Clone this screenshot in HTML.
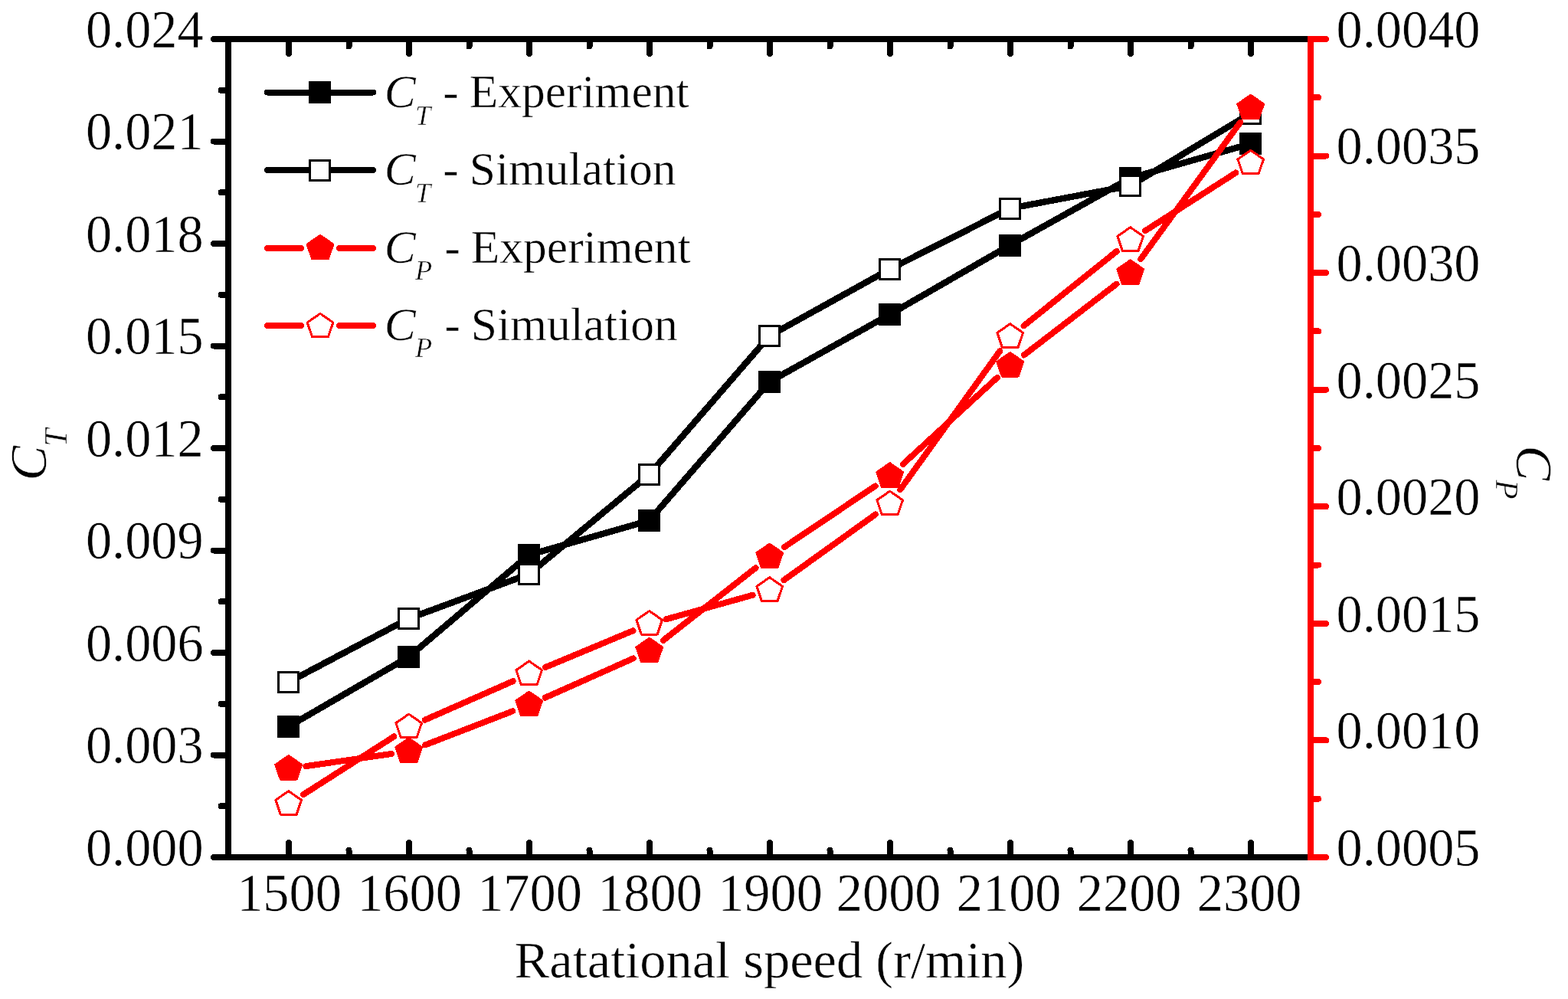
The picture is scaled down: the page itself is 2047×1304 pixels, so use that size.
<!DOCTYPE html>
<html lang="en"><head><meta charset="utf-8"><title>CT and CP versus rotational speed</title>
<style>
html,body{margin:0;padding:0;background:#fff;}
body{width:2047px;height:1304px;overflow:hidden;}
svg{display:block;}
text{font-family:"Liberation Serif", "Times New Roman", Times, serif;fill:#000;stroke:#fff;stroke-width:0.5px;}
.ax{stroke:#000;stroke-width:8;stroke-linecap:round;fill:none;}
.axr{stroke:#f00;stroke-width:8;stroke-linecap:round;fill:none;}
.lk{stroke:#000;stroke-width:8.4;fill:none;stroke-linejoin:round;}
.lr{stroke:#f00;stroke-width:8;fill:none;stroke-linecap:round;}
.sqf{fill:#000;stroke:#000;stroke-width:3;}
.sqo{fill:#fff;stroke:#000;stroke-width:3;}
.pf{fill:#f00;stroke:#f00;stroke-width:3;stroke-linejoin:round;}
.po{fill:#fff;stroke:#f00;stroke-width:3;stroke-linejoin:round;}
.tk{font-size:68.35px;}
.tt{font-size:68.5px;}
.lg{font-size:61.5px;}
.it{font-style:italic;}
</style></head><body>
<svg width="2047" height="1304" viewBox="0 0 2047 1304">
<rect x="0" y="0" width="2047" height="1304" fill="#fff"/>
<g shape-rendering="crispEdges">
<path class="ax" d="M377 51V70M377 1119V1100M455.5 51V60.5M455.5 1119V1109.5M534 51V70M534 1119V1100M612.5 51V60.5M612.5 1119V1109.5M691 51V70M691 1119V1100M769.5 51V60.5M769.5 1119V1109.5M848 51V70M848 1119V1100M926.5 51V60.5M926.5 1119V1109.5M1005 51V70M1005 1119V1100M1083.5 51V60.5M1083.5 1119V1109.5M1162 51V70M1162 1119V1100M1240.5 51V60.5M1240.5 1119V1109.5M1319 51V70M1319 1119V1100M1397.5 51V60.5M1397.5 1119V1109.5M1476 51V70M1476 1119V1100M1554.5 51V60.5M1554.5 1119V1109.5M1633 51V70M1633 1119V1100M298 1119H279M298 1052.25H288.5M298 985.5H279M298 918.75H288.5M298 852H279M298 785.25H288.5M298 718.5H279M298 651.75H288.5M298 585H279M298 518.25H288.5M298 451.5H279M298 384.75H288.5M298 318H279M298 251.25H288.5M298 184.5H279M298 117.75H288.5M298 51H279"/>
<path class="ax" style="stroke-linecap:butt" d="M298 51H1711 M298 1119H1711 M298 51V1119"/>
<path class="axr" d="M1711 1119H1731M1711 1042.71H1721M1711 966.43H1731M1711 890.14H1721M1711 813.86H1731M1711 737.57H1721M1711 661.29H1731M1711 585H1721M1711 508.71H1731M1711 432.43H1721M1711 356.14H1731M1711 279.86H1721M1711 203.57H1731M1711 127.29H1721M1711 51H1731"/>
<path class="axr" style="stroke-linecap:butt" d="M1711 47V1123"/>
</g>
<text class="tk" transform="translate(265.7,1129.8) scale(1,1.02)" text-anchor="end">0.000</text>
<text class="tk" transform="translate(265.7,996.3) scale(1,1.02)" text-anchor="end">0.003</text>
<text class="tk" transform="translate(265.7,862.8) scale(1,1.02)" text-anchor="end">0.006</text>
<text class="tk" transform="translate(265.7,729.3) scale(1,1.02)" text-anchor="end">0.009</text>
<text class="tk" transform="translate(265.7,595.8) scale(1,1.02)" text-anchor="end">0.012</text>
<text class="tk" transform="translate(265.7,462.3) scale(1,1.02)" text-anchor="end">0.015</text>
<text class="tk" transform="translate(265.7,328.8) scale(1,1.02)" text-anchor="end">0.018</text>
<text class="tk" transform="translate(265.7,195.3) scale(1,1.02)" text-anchor="end">0.021</text>
<text class="tk" transform="translate(265.7,61.8) scale(1,1.02)" text-anchor="end">0.024</text>
<text class="tk" transform="translate(1744.6,1129.8) scale(1,1.02)">0.0005</text>
<text class="tk" transform="translate(1744.6,977.23) scale(1,1.02)">0.0010</text>
<text class="tk" transform="translate(1744.6,824.66) scale(1,1.02)">0.0015</text>
<text class="tk" transform="translate(1744.6,672.09) scale(1,1.02)">0.0020</text>
<text class="tk" transform="translate(1744.6,519.51) scale(1,1.02)">0.0025</text>
<text class="tk" transform="translate(1744.6,366.94) scale(1,1.02)">0.0030</text>
<text class="tk" transform="translate(1744.6,214.37) scale(1,1.02)">0.0035</text>
<text class="tk" transform="translate(1744.6,61.8) scale(1,1.02)">0.0040</text>
<text class="tk" transform="translate(377.5,1188.8) scale(1,1.02)" text-anchor="middle">1500</text>
<text class="tk" transform="translate(534.5,1188.8) scale(1,1.02)" text-anchor="middle">1600</text>
<text class="tk" transform="translate(691.5,1188.8) scale(1,1.02)" text-anchor="middle">1700</text>
<text class="tk" transform="translate(848.5,1188.8) scale(1,1.02)" text-anchor="middle">1800</text>
<text class="tk" transform="translate(1005.5,1188.8) scale(1,1.02)" text-anchor="middle">1900</text>
<text class="tk" transform="translate(1160.2,1188.8) scale(1,1.02)" text-anchor="middle">2000</text>
<text class="tk" transform="translate(1317.2,1188.8) scale(1,1.02)" text-anchor="middle">2100</text>
<text class="tk" transform="translate(1474.2,1188.8) scale(1,1.02)" text-anchor="middle">2200</text>
<text class="tk" transform="translate(1631.2,1188.8) scale(1,1.02)" text-anchor="middle">2300</text>
<text class="tt" transform="translate(1004.5,1275.5)" text-anchor="middle">Ratational speed (r/min)</text>
<text class="tt it" transform="translate(60,627.4) rotate(-90)"><tspan>C</tspan><tspan font-size="41.3" x="44.6" y="27">T</tspan></text>
<text class="tt it" transform="translate(1979.5,581.6) rotate(90)"><tspan>C</tspan><tspan font-size="41.3" x="44.6" y="27">P</tspan></text>
<g shape-rendering="crispEdges">
<polyline class="lk" points="376.5,948.5 533.5,857.5 690.5,724.4 847.5,679.5 1004.5,498.4 1161.5,410.5 1318.5,320 1475.5,232.5 1632.5,187.6"/>
<rect class="sqf" x="363.5" y="935.5" width="26" height="26"/>
<rect class="sqf" x="520.5" y="844.5" width="26" height="26"/>
<rect class="sqf" x="677.5" y="711.4" width="26" height="26"/>
<rect class="sqf" x="834.5" y="666.5" width="26" height="26"/>
<rect class="sqf" x="991.5" y="485.4" width="26" height="26"/>
<rect class="sqf" x="1148.5" y="397.5" width="26" height="26"/>
<rect class="sqf" x="1305.5" y="307" width="26" height="26"/>
<rect class="sqf" x="1462.5" y="219.5" width="26" height="26"/>
<rect class="sqf" x="1619.5" y="174.6" width="26" height="26"/>
<polyline class="lk" points="376.5,890.5 533.5,807.5 690.5,749.4 847.5,619.5 1004.5,438.4 1161.5,351.4 1318.5,272 1475.5,242.5 1632.5,148.1"/>
<rect class="sqo" x="363.5" y="877.5" width="26" height="26"/>
<rect class="sqo" x="520.5" y="794.5" width="26" height="26"/>
<rect class="sqo" x="677.5" y="736.4" width="26" height="26"/>
<rect class="sqo" x="834.5" y="606.5" width="26" height="26"/>
<rect class="sqo" x="991.5" y="425.4" width="26" height="26"/>
<rect class="sqo" x="1148.5" y="338.4" width="26" height="26"/>
<rect class="sqo" x="1305.5" y="259" width="26" height="26"/>
<rect class="sqo" x="1462.5" y="229.5" width="26" height="26"/>
<rect class="sqo" x="1619.5" y="135.1" width="26" height="26"/>
<path class="lr" d="M399.46 1000.11L510.94 983.99M555.15 972.41L669.25 928.29M711.71 910.65L826.69 859.45M865.8 835.91L986.6 741.19M1023.8 714.18L1142.6 634.42M1178.64 606.04L1301.76 492.96M1336.93 463.38L1457.47 370.72M1489.24 338.11L1619.16 159.69"/>
<polygon class="pf" points="376.7,986.5 393.53,998.18 387.1,1017.07 366.3,1017.07 359.87,998.18"/>
<polygon class="pf" points="533.7,963.8 550.53,975.48 544.1,994.37 523.3,994.37 516.87,975.48"/>
<polygon class="pf" points="690.7,903.1 707.53,914.78 701.1,933.67 680.3,933.67 673.87,914.78"/>
<polygon class="pf" points="847.7,833.2 864.53,844.88 858.1,863.77 837.3,863.77 830.87,844.88"/>
<polygon class="pf" points="1004.7,710.1 1021.53,721.78 1015.1,740.67 994.3,740.67 987.87,721.78"/>
<polygon class="pf" points="1161.7,604.7 1178.53,616.38 1172.1,635.27 1151.3,635.27 1144.87,616.38"/>
<polygon class="pf" points="1318.7,460.5 1335.53,472.18 1329.1,491.07 1308.3,491.07 1301.87,472.18"/>
<polygon class="pf" points="1475.7,339.8 1492.53,351.48 1486.1,370.37 1465.3,370.37 1458.87,351.48"/>
<polygon class="pf" points="1632.7,124.2 1649.53,135.88 1643.1,154.77 1622.3,154.77 1615.87,135.88"/>
<path class="lr" d="M396.07 1037.1L514.33 961.4M554.75 939.73L669.65 889.17M711.93 871.04L826.47 823.26M869.85 808.22L982.55 776.78M1023.39 757.2L1143.01 671.4M1175.13 639.32L1305.27 458.28M1336.64 425.2L1457.76 328M1495.07 301.2L1613.33 225.5"/>
<polygon class="po" points="376.7,1032.6 393.53,1044.28 387.1,1063.17 366.3,1063.17 359.87,1044.28"/>
<polygon class="po" points="533.7,932.1 550.53,943.78 544.1,962.67 523.3,962.67 516.87,943.78"/>
<polygon class="po" points="690.7,863 707.53,874.68 701.1,893.57 680.3,893.57 673.87,874.68"/>
<polygon class="po" points="847.7,797.5 864.53,809.18 858.1,828.07 837.3,828.07 830.87,809.18"/>
<polygon class="po" points="1004.7,753.7 1021.53,765.38 1015.1,784.27 994.3,784.27 987.87,765.38"/>
<polygon class="po" points="1161.7,641.1 1178.53,652.78 1172.1,671.67 1151.3,671.67 1144.87,652.78"/>
<polygon class="po" points="1318.7,422.7 1335.53,434.38 1329.1,453.27 1308.3,453.27 1301.87,434.38"/>
<polygon class="po" points="1475.7,296.7 1492.53,308.38 1486.1,327.27 1465.3,327.27 1458.87,308.38"/>
<polygon class="po" points="1632.7,196.2 1649.53,207.88 1643.1,226.77 1622.3,226.77 1615.87,207.88"/>
<path class="ax" d="M349 120.5H487 M349 222H487"/>
<rect class="sqf" x="404.5" y="107.5" width="26" height="26"/>
<rect class="sqo" x="404.5" y="209" width="26" height="26"/>
<path class="lr" d="M349 324H393 M443 324H487"/>
<polygon class="pf" points="418,307.3 434.83,318.98 428.4,337.87 407.6,337.87 401.17,318.98"/>
<path class="lr" d="M349 425H393 M443 425H487"/>
<polygon class="po" points="418,409.3 434.83,420.98 428.4,439.87 407.6,439.87 401.17,420.98"/>
</g>
<text class="lg" y="139.9"><tspan class="it" x="501.7">C</tspan><tspan class="it" font-size="36.3" x="541.9" dy="22.6">T</tspan> <tspan x="578.3" dy="-22.6">-</tspan> <tspan x="612.7">Experiment</tspan></text>
<text class="lg" y="241"><tspan class="it" x="501.7">C</tspan><tspan class="it" font-size="36.3" x="541.9" dy="22.6">T</tspan> <tspan x="578.3" dy="-22.6">-</tspan> <tspan x="612.7">Simulation</tspan></text>
<text class="lg" y="342.5"><tspan class="it" x="501.7">C</tspan><tspan class="it" font-size="36.3" x="541.9" dy="22.6">P</tspan> <tspan x="580.4" dy="-22.6">-</tspan> <tspan x="614.8">Experiment</tspan></text>
<text class="lg" y="443.5"><tspan class="it" x="501.7">C</tspan><tspan class="it" font-size="36.3" x="541.9" dy="22.6">P</tspan> <tspan x="580.4" dy="-22.6">-</tspan> <tspan x="614.8">Simulation</tspan></text>
</svg>
</body></html>
